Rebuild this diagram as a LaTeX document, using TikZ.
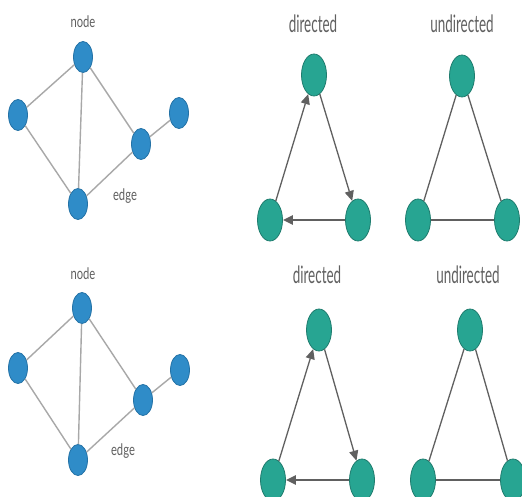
\documentclass[tikz,border=0pt]{standalone}
\usepackage{fontspec}
\setmainfont{Lato}
\usetikzlibrary{shapes.geometric,arrows.meta}
\definecolor{nodeblue}{HTML}{2F8CC8}
\definecolor{blueedge}{HTML}{2472A6}
\definecolor{teal}{HTML}{27A592}
\definecolor{tealedge}{HTML}{1F7C6E}
\definecolor{linkgrey}{HTML}{A8A8A8}
\definecolor{arcgrey}{HTML}{606060}
\definecolor{labelgrey}{HTML}{606060}
\newcommand{\narrow}[2]{\scalebox{#1}[1]{#2}}
\begin{document}
\begin{tikzpicture}[x=1pt,y=-1pt,
  bnode/.style={ellipse,fill=nodeblue,draw=blueedge,line width=0.8pt,minimum width=19pt,minimum height=31pt,inner sep=0pt},
  tnode/.style={ellipse,fill=teal,draw=tealedge,line width=0.8pt,minimum width=25pt,minimum height=42pt,inner sep=0pt},
  link/.style={draw=linkgrey,line width=1.4pt},
  arc/.style={draw=arcgrey,line width=1.3pt},
  heavyarc/.style={draw=arcgrey,line width=2.4pt},
  tip/.style={-{Triangle[length=10pt,width=9pt]}},
  small/.style={text=labelgrey,font=\fontsize{16}{16}\selectfont},
  big/.style={text=labelgrey,font=\fontsize{24}{24}\selectfont}]
\useasboundingbox (0,0) rectangle (522,497);
\fill[white] (0,0) rectangle (522,497);

% ---- general graph, upper copy ----
\node[small] (n1) at (83,22) {\narrow{0.7}{node}};
\node[bnode] (a1) at (83,57) {};
\node[bnode] (b1) at (18,115) {};
\node[bnode] (c1) at (78,204) {};
\node[bnode] (d1) at (141,144) {};
\node[bnode] (e1) at (179,113) {};
\node[small] (g1) at (125,196) {\narrow{0.7}{edge}};
\draw[link] (a1) -- (b1);
\draw[link] (a1) -- (c1);
\draw[link] (a1) -- (d1);
\draw[link] (b1) -- (c1);
\draw[link] (c1) -- (d1);
\draw[link] (d1) -- (e1);

% ---- general graph, lower copy ----
\node[small] (n2) at (83,274) {\narrow{0.7}{node}};
\node[bnode] (a2) at (82,308) {};
\node[bnode] (b2) at (18,368) {};
\node[bnode] (c2) at (78,460) {};
\node[bnode] (d2) at (143,400) {};
\node[bnode] (e2) at (180,370) {};
\node[small] (g2) at (123,451) {\narrow{0.7}{edge}};
\draw[link] (a2) -- (b2);
\draw[link] (a2) -- (c2);
\draw[link] (a2) -- (d2);
\draw[link] (b2) -- (c2);
\draw[link] (c2) -- (d2);
\draw[link] (d2) -- (e2);

% ---- directed triangle, upper ----
\node[big] (l1) at (313,24) {\narrow{0.56}{directed}};
\node[tnode] (t1) at (314,75) {};
\node[tnode] (p1) at (270,220) {};
\node[tnode] (q1) at (358,220) {};
\draw[arc,tip] (p1) -- (t1);
\draw[arc,tip] (t1) -- (q1);
\draw[heavyarc,tip] (q1) -- (p1);

% ---- undirected triangle, upper ----
\node[big] (u1) at (462,24) {\narrow{0.56}{undirected}};
\node[tnode] (ut1) at (462,76) {};
\node[tnode] (up1) at (418,220) {};
\node[tnode] (uq1) at (507,220) {};
\draw[arc] (ut1) -- (up1);
\draw[arc] (ut1) -- (uq1);
\draw[heavyarc] (up1) -- (uq1);

% ---- directed triangle, lower ----
\node[big] (l2) at (317,275) {\narrow{0.56}{directed}};
\node[tnode] (t2) at (319,330) {};
\node[tnode] (p2) at (273,480) {};
\node[tnode] (q2) at (362,480) {};
\draw[arc,tip] (p2) -- (t2);
\draw[arc,tip] (t2) -- (q2);
\draw[heavyarc,tip] (q2) -- (p2);

% ---- undirected triangle, lower ----
\node[big] (u2) at (468,275) {\narrow{0.56}{undirected}};
\node[tnode] (ut2) at (470,330) {};
\node[tnode] (up2) at (423,480) {};
\node[tnode] (uq2) at (513,480) {};
\draw[arc] (ut2) -- (up2);
\draw[arc] (ut2) -- (uq2);
\draw[heavyarc] (up2) -- (uq2);
\end{tikzpicture}
\end{document}
